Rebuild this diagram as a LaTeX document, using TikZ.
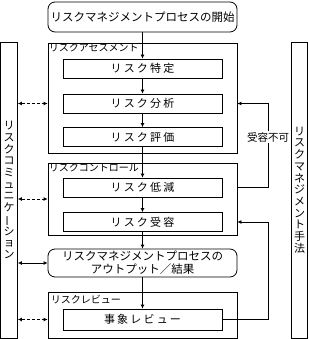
\documentclass[tikz,border=0pt]{standalone}
\usepackage{fontspec}
\setmainfont{Noto Sans CJK JP}
\newfontfamily\spaced[LetterSpace=20]{Noto Sans CJK JP}
\usetikzlibrary{arrows.meta}

\newcommand{\vbar}{\rotatebox[origin=c]{90}{ー}}

\begin{document}
\begin{tikzpicture}[
            x=1pt, y=-1pt,
            box/.style={
                draw=black,
                line width=0.8pt,
                minimum width=159pt,
                minimum height=19pt,
                inner sep=0pt,
                font=\spaced\fontsize{11}{13}\selectfont
            },
            group/.style={
                draw=black,
                line width=0.8pt,
                minimum width=189pt,
                inner sep=0pt
            },
            grouplabel/.style={
                anchor=north west,
                inner sep=1pt,
                font=\fontsize{10}{12}\selectfont
            },
            terminal/.style={
                draw=black,
                rounded corners=7pt,
                line width=0.8pt,
                minimum width=189pt,
                inner sep=0pt,
                align=center,
                font=\fontsize{11.5}{13}\selectfont
            },
            side/.style={
                draw=black,
                line width=0.8pt,
                minimum height=296pt,
                inner sep=0pt,
                align=center,
                font=\fontsize{11}{11.7}\selectfont
            },
            flow/.style={-{Latex[length=4pt,width=4pt]}, line width=0.8pt},
            link/.style={{Latex[length=4pt,width=4pt]}-{Latex[length=4pt,width=4pt]}, line width=0.8pt},
            dashlink/.style={link, dash pattern=on 3pt off 2pt}
        ]
        \useasboundingbox (0,0) rectangle (308,339);

        % Inicio
        \node[terminal, minimum height=30pt] (start) at (142.5,17) {リスクマネジメントプロセスの開始};

        % Columnas laterales
        \node[side, minimum width=17pt] (comm) at (9,190)
            {リ\\ス\\ク\\コ\\ミ\\ュ\\ニ\\ケ\\\vbar\\シ\\ョ\\ン};
        \node[side, minimum width=16pt] (tools) at (299.5,190)
            {リ\\ス\\ク\\マ\\ネ\\ジ\\メ\\ン\\ト\\手\\法};

        % Grupos
        \node[group, minimum height=110pt] (ra) at (142.5,98) {};
        \node[grouplabel] (ralabel) at (ra.north west) {リスクアセスメント};
        \node[group, minimum height=72pt] (rc) at (142.5,199) {};
        \node[grouplabel] (rclabel) at (rc.north west) {リスクコントロール};
        \node[group, minimum height=46pt] (rr) at (142.5,315) {};
        \node[grouplabel, inner sep=3pt] (rrlabel) at (rr.north west) {リスクレビュー};

        % Pasos
        \node[box] (ident) at (142.5,68.5) {リスク特定};
        \node[box] (analysis) at (142.5,103.5) {リスク分析};
        \node[box] (evaluation) at (142.5,137) {リスク評価};
        \node[box] (reduction) at (142.5,187.5) {リスク低減};
        \node[box] (acceptance) at (142.5,222) {リスク受容};
        \node[terminal, minimum height=28pt] (output) at (142.5,263)
            {リスクマネジメントプロセスの\\アウトプット／結果};
        \node[box, minimum height=21pt] (event) at (142.5,319.5) {事象レビュー};

        % Flujo principal
        \draw[flow] (start) -- (ident);
        \draw[flow] (ident) -- (analysis);
        \draw[flow] (analysis) -- (evaluation);
        \draw[flow] (evaluation) -- (reduction);
        \draw[flow] (reduction) -- (acceptance);
        \draw[flow] (acceptance) -- (output);
        \draw[flow] (output) -- (event);

        % Comunicación
        \draw[dashlink] (comm.east |- analysis) -- (ra.west |- analysis);
        \draw[dashlink] (comm.east |- rc.west) -- (rc.west);
        \draw[link] (comm.east |- output.west) -- (output.west);
        \draw[dashlink] (comm.east |- event) -- (rr.west |- event);

        % Retroalimentación
        \coordinate (fb) at (268,0);
        \draw[flow] (rc.east |- reduction) -- (fb |- reduction)
            -- (fb |- analysis) -- (ra.east |- analysis);
        \draw[flow] (event.east) -- (fb |- event)
            -- (fb |- acceptance) -- (rc.east |- acceptance);
        \node[fill=white, inner sep=1pt, font=\fontsize{10.5}{12}\selectfont] (reject) at (fb |- evaluation) {受容不可};

        \end{tikzpicture}
\end{document}
